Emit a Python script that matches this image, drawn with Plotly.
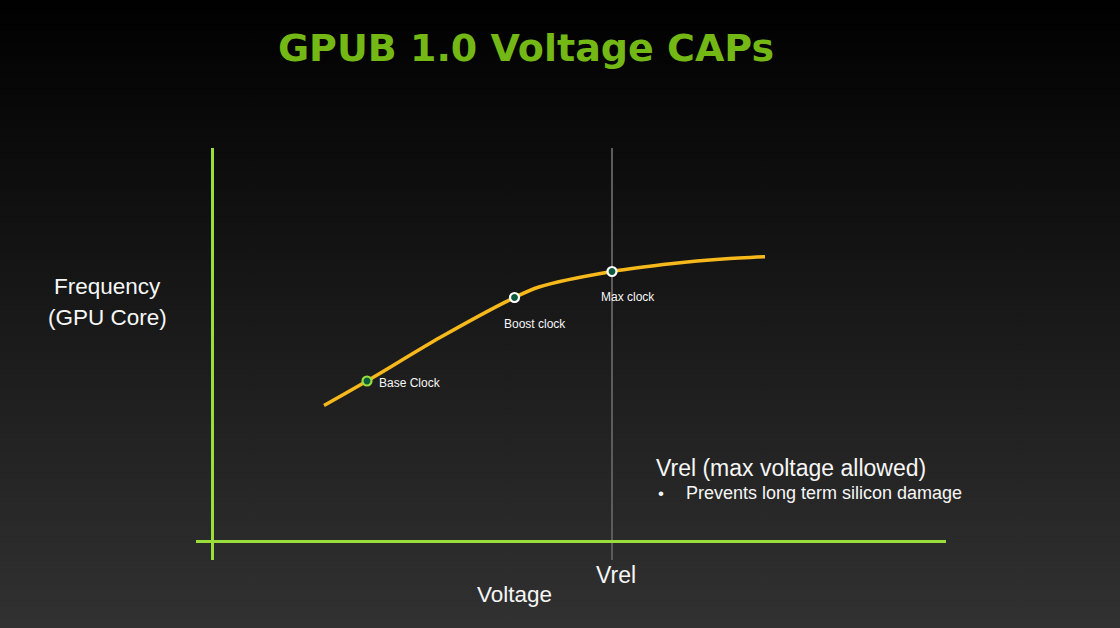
import base64
import plotly.graph_objects as go

# ---- data ----
curve_voltage = [1.12, 1.55, 2.28, 3.025, 3.27, 4.00, 4.61, 5.11, 5.53]
curve_freq = [1.355, 1.60, 2.035, 2.435, 2.54, 2.695, 2.775, 2.82, 2.843]
point_labels = ["Base Clock", "Boost clock", "Max clock"]
point_voltage = [1.55, 3.025, 4.00]
point_freq = [1.60, 2.435, 2.695]
point_ring_colors = ["#97e03c", "#ffffff", "#ffffff"]
vrel_voltage = 4.00

W, H = 1120, 628
ML, MR, MT, MB = 196, 174, 148, 68
PW, PH = W - ML - MR, H - MT - MB


def px(x):
    return (x - ML) / PW


def py(y):
    return (H - MB - y) / PH


GREEN = "#9ade3c"
WHITE = "#f6f6f6"
FONT = "Liberation Sans, Arial, sans-serif"

fig = go.Figure()

fig.add_trace(go.Scatter(
    x=curve_voltage, y=curve_freq, mode="lines",
    line=dict(color="#f7b81c", width=3.5, shape="spline", smoothing=0.8),
    hoverinfo="skip", showlegend=False,
))
fig.add_trace(go.Scatter(
    x=point_voltage, y=point_freq, mode="markers",
    marker=dict(size=9, color="#0e5a3c", line=dict(color=point_ring_colors, width=2.2)),
    hoverinfo="skip", showlegend=False,
))

# point labels
offsets = [(10, -2), (-13, -26), (-13, -25)]
for lab, xv, yv, (dx, dy) in zip(point_labels, point_voltage, point_freq, offsets):
    fig.add_annotation(x=xv, y=yv, text=lab, showarrow=False, xanchor="left",
                       yanchor="middle", xshift=dx, yshift=dy,
                       font=dict(family=FONT, size=12, color=WHITE))

# Vrel line
fig.add_shape(type="line", xref="x", yref="paper", x0=vrel_voltage, x1=vrel_voltage,
              y0=0, y1=1, line=dict(color="#5c5c5c", width=2), layer="below")

# gradient background
svg = ('<svg xmlns="http://www.w3.org/2000/svg" width="1120" height="628">'
       '<defs><linearGradient id="g" x1="0" y1="0" x2="0" y2="1">'
       '<stop offset="0" stop-color="#000000"/>'
       '<stop offset="1" stop-color="#313131"/></linearGradient></defs>'
       '<rect width="1120" height="628" fill="url(#g)"/></svg>')
uri = "data:image/svg+xml;base64," + base64.b64encode(svg.encode()).decode()
fig.add_layout_image(source=uri, xref="paper", yref="paper", x=px(0), y=py(0),
                     sizex=W / PW, sizey=H / PH, xanchor="left", yanchor="top",
                     sizing="stretch", layer="below")

texts = [
    ("Frequency", 107, 286, 22.5, "center"),
    ("(GPU Core)", 107, 317, 22.5, "center"),
    ("Voltage", 514, 594, 22.5, "center"),
    ("Vrel (max voltage allowed)", 654, 468, 23, "left"),
    ("•", 656, 493, 17, "left"),
    ("Prevents long term silicon damage", 684, 493, 18, "left"),
]
for t, x, y, s, anc in texts:
    fig.add_annotation(xref="paper", yref="paper", x=px(x), y=py(y), text=t,
                       showarrow=False, xanchor=anc, yanchor="middle",
                       font=dict(family=FONT, size=s, color=WHITE))

fig.add_annotation(xref="x", yref="paper", x=vrel_voltage, y=py(575), text="Vrel",
                   showarrow=False, xanchor="center", yanchor="middle", xshift=4,
                   font=dict(family=FONT, size=23, color=WHITE))

fig.update_layout(
    width=W, height=H,
    margin=dict(l=ML, r=MR, t=MT, b=MB),
    paper_bgcolor="#1a1a1a", plot_bgcolor="rgba(0,0,0,0)",
    title=dict(text="<b>GPUB 1.0 Voltage CAPs</b>", x=526 / W, xanchor="center",
               y=1 - 48 / H, yanchor="middle",
               font=dict(family="DejaVu Sans, sans-serif", size=38, color="#74b816")),
    xaxis=dict(range=[-(212 - ML) / 100, (946 - 212) / 100], showgrid=False,
               showticklabels=False, ticks="", zeroline=True, zerolinecolor=GREEN,
               zerolinewidth=3, fixedrange=True),
    yaxis=dict(range=[-(MT + PH - 541) / 100, (541 - MT) / 100], showgrid=False,
               showticklabels=False, ticks="", zeroline=True, zerolinecolor=GREEN,
               zerolinewidth=3, fixedrange=True),
    showlegend=False,
)

fig.write_html("out.html", config={"displayModeBar": False},
               post_script="document.body.style.margin='0';")
